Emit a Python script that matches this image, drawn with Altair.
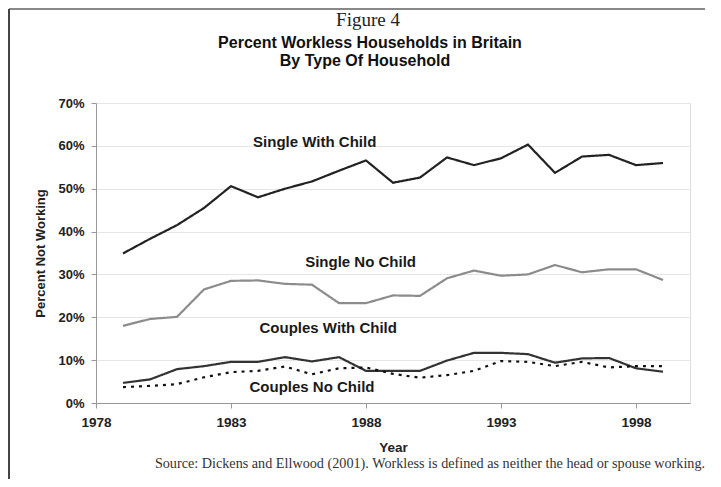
import altair as alt
import pandas as pd

years = list(range(1979, 2000))
single_with_child = [34.9, 38.3, 41.5, 45.5, 50.6, 48.0, 50.0, 51.7, 54.2, 56.6, 51.4, 52.6, 57.3, 55.5, 57.1, 60.3, 53.7, 57.5, 57.9, 55.5, 56.0]
single_no_child = [18.0, 19.6, 20.1, 26.5, 28.5, 28.6, 27.8, 27.6, 23.3, 23.3, 25.1, 25.0, 29.1, 30.9, 29.7, 30.0, 32.2, 30.5, 31.2, 31.2, 28.7]
couples_with_child = [4.7, 5.5, 7.9, 8.6, 9.6, 9.6, 10.7, 9.7, 10.7, 7.5, 7.5, 7.5, 9.9, 11.7, 11.7, 11.4, 9.4, 10.4, 10.5, 8.1, 7.3]
couples_no_child = [3.7, 4.0, 4.4, 6.0, 7.2, 7.5, 8.5, 6.7, 8.1, 8.3, 6.8, 5.9, 6.5, 7.5, 9.8, 9.6, 8.6, 9.6, 8.3, 8.6, 8.6]

series_names = ["Single With Child", "Single No Child", "Couples With Child", "Couples No Child"]
series_values = [single_with_child, single_no_child, couples_with_child, couples_no_child]
series_colors = ["#222222", "#8c8c8c", "#333333", "#111111"]
series_dash = [[1, 0], [1, 0], [1, 0], [3, 5]]

x_ticks = [1978, 1983, 1988, 1993, 1998]
y_ticks = [0, 0.1, 0.2, 0.3, 0.4, 0.5, 0.6, 0.7]

label_names = ["Single With Child", "Single No Child", "Couples With Child", "Couples No Child"]
label_years = [1986.1, 1987.8, 1986.6, 1986.0]
label_values = [60.8, 33.0, 17.5, 3.7]

rows = []
for name, vals in zip(series_names, series_values):
    for y, v in zip(years, vals):
        rows.append({"Year": y, "Value": v / 100, "Series": name})
df = pd.DataFrame(rows)

labels_df = pd.DataFrame({"Year": label_years, "Value": [v / 100 for v in label_values], "Label": label_names})

W, H = 594, 300

x_scale = alt.Scale(domain=[1978, 2000], nice=False, zero=False)
y_scale = alt.Scale(domain=[0, 0.7], nice=False)

lines = alt.Chart(df).mark_line(strokeWidth=2.2, strokeJoin="miter").encode(
    x=alt.X("Year:Q", scale=x_scale,
            axis=alt.Axis(values=x_ticks, format="d", title="Year", grid=False, labelFlush=False,
                          labelFont="Liberation Sans", labelFontWeight="bold", labelFontSize=13.5,
                          labelColor="#222", labelPadding=7,
                          titleFont="Liberation Sans", titleFontWeight="bold", titleFontSize=13.5,
                          titleColor="#222", titlePadding=12,
                          domainColor="#999", tickColor="#999", tickSize=5)),
    y=alt.Y("Value:Q", scale=y_scale,
            axis=alt.Axis(values=y_ticks, format=".0%", title="Percent Not Working",
                          labelFont="Liberation Sans", labelFontWeight="bold", labelFontSize=13,
                          labelColor="#222", labelPadding=7,
                          titleFont="Liberation Sans", titleFontWeight="bold", titleFontSize=13,
                          titleColor="#222", titlePadding=10,
                          domainColor="#999", tickColor="#999", tickSize=5,
                          gridColor="#e6e6e6")),
    color=alt.Color("Series:N", scale=alt.Scale(domain=series_names, range=series_colors), legend=None),
    strokeDash=alt.StrokeDash("Series:N", scale=alt.Scale(domain=series_names, range=series_dash), legend=None),
    detail="Series:N",
)

line_labels = alt.Chart(labels_df).mark_text(
    font="Liberation Sans", fontWeight="bold", fontSize=15, color="#1a1a1a", align="center", baseline="middle"
).encode(x="Year:Q", y="Value:Q", text="Label:N")

title_lines = ["Figure 4", "Percent Workless Households in Britain", "By Type Of Household"]

fig_title = alt.Chart(pd.DataFrame({"t": [title_lines[0]]})).mark_text(
    font="Liberation Serif", fontSize=19, color="#222", align="center", baseline="middle"
).encode(text="t:N", x=alt.value(W / 2 - 25), y=alt.value(-83))

main_title1 = alt.Chart(pd.DataFrame({"t": [title_lines[1]]})).mark_text(
    font="Liberation Sans", fontWeight="bold", fontSize=16, color="#111", align="center", baseline="middle"
).encode(text="t:N", x=alt.value(W / 2 - 23), y=alt.value(-60))

main_title2 = alt.Chart(pd.DataFrame({"t": [title_lines[2]]})).mark_text(
    font="Liberation Sans", fontWeight="bold", fontSize=16, color="#111", align="center", baseline="middle"
).encode(text="t:N", x=alt.value(W / 2 - 28), y=alt.value(-42))

source_text = ["Source: Dickens and Ellwood (2001). Workless is defined as neither the head or spouse working."]
footer = alt.Chart(pd.DataFrame({"t": source_text})).mark_text(
    font="Liberation Serif", fontSize=14.2, color="#333", align="center", baseline="middle"
).encode(text="t:N", x=alt.value(W / 2 + 37), y=alt.value(H + 61))

frame_df = pd.DataFrame({"k": [0]})
frame_top = alt.Chart(frame_df).mark_rule(color="#888", strokeWidth=2).encode(
    x=alt.value(-87), x2=alt.value(W + 15), y=alt.value(-94))
frame_left = alt.Chart(frame_df).mark_rule(color="#444", strokeWidth=2).encode(
    x=alt.value(-87), y=alt.value(-94), y2=alt.value(H + 76))

chart = alt.layer(lines, line_labels, fig_title, main_title1, main_title2, footer, frame_top, frame_left).properties(
    width=W, height=H,
    autosize=alt.AutoSizeParams(type="none"),
    padding={"left": 88, "top": 95, "right": 15, "bottom": 76},
).configure_view(stroke="#aaa", strokeWidth=1.2).configure(background="white")

chart.save("out.html", embed_options={"renderer": "svg", "actions": False})
